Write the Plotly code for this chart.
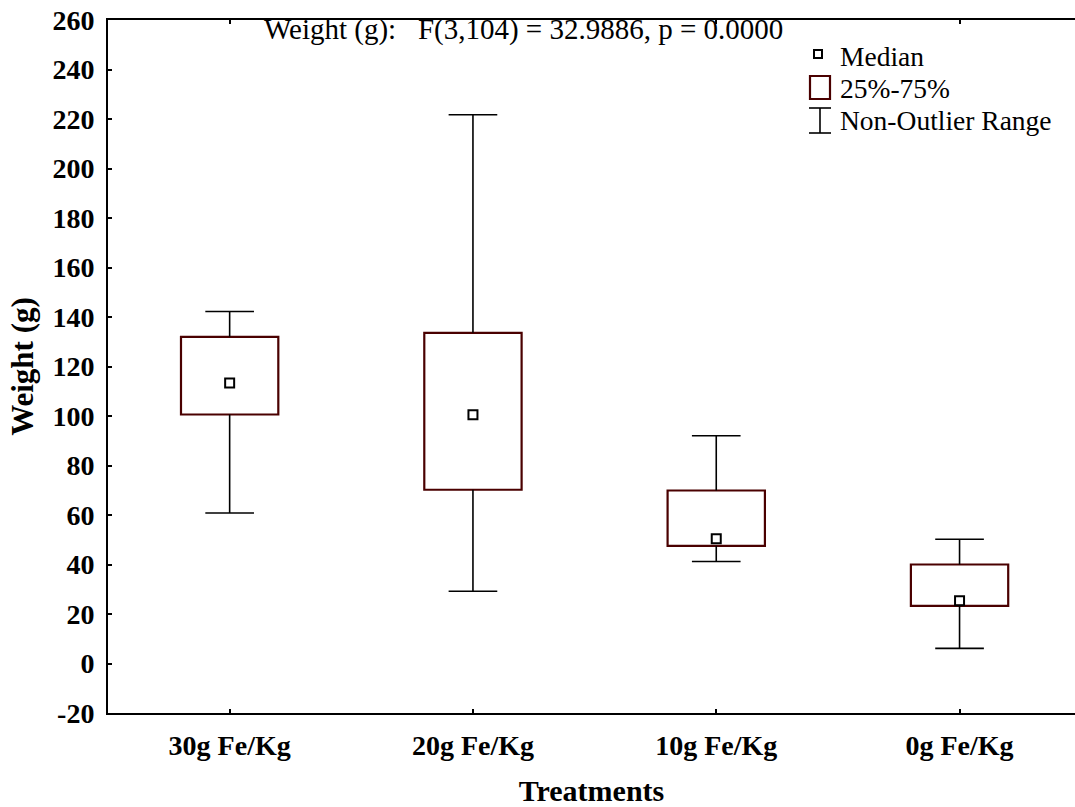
import plotly.graph_objects as go

# ---- data ----
categories = ["30g Fe/Kg", "20g Fe/Kg", "10g Fe/Kg", "0g Fe/Kg"]
medians = [113.3, 100.5, 50.4, 25.4]
q1 = [100.6, 70.2, 47.5, 23.3]
q3 = [132.0, 133.6, 69.9, 40.0]
whisker_low = [60.8, 29.2, 41.2, 6.1]
whisker_high = [142.2, 221.7, 92.0, 50.2]
y_ticks = [-20, 0, 20, 40, 60, 80, 100, 120, 140, 160, 180, 200, 220, 240, 260]
stat_text = "Weight (g):\u00a0\u00a0\u00a0F(3,104) = 32.9886, p = 0.0000"
legend_labels = ["Median", "25%-75%", "Non-Outlier Range"]

FONT = "Liberation Serif"
BOX_COLOR = "#4a0000"
W, H = 1075, 807
ML, MT, MB, MR = 108, 20, 94, 0
PW, PH = W - ML - MR, H - MT - MB

xs = list(range(len(categories)))
box_w = 0.4
cap_half = 0.1

fig = go.Figure()

# boxes (25%-75%)
fig.add_trace(go.Bar(
    x=xs, base=q1, y=[b - a for a, b in zip(q1, q3)], width=box_w,
    marker=dict(color="white", line=dict(color=BOX_COLOR, width=2.2)),
    hoverinfo="skip", showlegend=False))

# whiskers + caps
wx, wy = [], []
for i in xs:
    wx += [i, i, None, i, i, None,
           i - cap_half, i + cap_half, None, i - cap_half, i + cap_half, None]
    wy += [q3[i], whisker_high[i], None, q1[i], whisker_low[i], None,
           whisker_high[i], whisker_high[i], None, whisker_low[i], whisker_low[i], None]
fig.add_trace(go.Scatter(x=wx, y=wy, mode="lines",
                         line=dict(color="black", width=1.6),
                         hoverinfo="skip", showlegend=False))

# medians
fig.add_trace(go.Scatter(x=xs, y=medians, mode="markers",
                         marker=dict(symbol="square-open", size=9, color="black",
                                     line=dict(width=2, color="black")),
                         hoverinfo="skip", showlegend=False))

def px2paper(px, py):
    return (px - ML) / PW, (H - MB - py) / PH

shapes = []
annotations = []

# statistic text
sx, sy = px2paper(262, 29)
annotations.append(dict(x=sx, y=sy, xref="paper", yref="paper", xanchor="left",
                        yanchor="middle", showarrow=False, text=stat_text,
                        font=dict(family=FONT, size=29, color="black")))

# manual legend
legend_y = [56, 89, 121]
for lab, ly in zip(legend_labels, legend_y):
    tx, ty = px2paper(838, ly)
    annotations.append(dict(x=tx, y=ty, xref="paper", yref="paper", xanchor="left",
                            yanchor="middle", showarrow=False, text=lab,
                            font=dict(family=FONT, size=27.5, color="black")))

def rect(x0, y0, x1, y1, color, width):
    a0, b0 = px2paper(x0, y0)
    a1, b1 = px2paper(x1, y1)
    return dict(type="rect", xref="paper", yref="paper", x0=a0, y0=b0, x1=a1, y1=b1,
                line=dict(color=color, width=width), fillcolor="white")

def seg(x0, y0, x1, y1, width=1.6):
    a0, b0 = px2paper(x0, y0)
    a1, b1 = px2paper(x1, y1)
    return dict(type="line", xref="paper", yref="paper", x0=a0, y0=b0, x1=a1, y1=b1,
                line=dict(color="black", width=width))

shapes.append(rect(814, 50, 822, 58, "black", 2))
shapes.append(rect(810, 76, 830, 99, BOX_COLOR, 2.2))
shapes.append(seg(820, 108, 820, 133))
shapes.append(seg(809, 108, 831, 108))
shapes.append(seg(809, 133, 831, 133))

x_span = PW / 243.3
fig.update_layout(
    width=W, height=H,
    margin=dict(l=ML, r=MR, t=MT, b=MB, pad=0),
    paper_bgcolor="white", plot_bgcolor="white",
    showlegend=False,
    shapes=shapes, annotations=annotations,
    xaxis=dict(
        range=[-0.5, -0.5 + x_span],
        tickmode="array", tickvals=xs, ticktext=categories,
        ticks="inside", ticklen=4, tickwidth=1.5, tickcolor="black",
        showline=True, linecolor="black", linewidth=2, mirror="ticks",
        showgrid=False, zeroline=False,
        tickfont=dict(family=FONT, size=28, color="black", weight="bold"),
        ticklabelstandoff=6,
        title=dict(text="Treatments", standoff=22,
                   font=dict(family=FONT, size=30, color="black", weight="bold")),
    ),
    yaxis=dict(
        range=[-20, 260],
        tickmode="array", tickvals=y_ticks, ticktext=[str(v) for v in y_ticks],
        ticks="inside", ticklen=4, tickwidth=1.5, tickcolor="black",
        showline=True, linecolor="black", linewidth=2, mirror=False,
        showgrid=False, zeroline=False,
        tickfont=dict(family=FONT, size=28, color="black", weight="bold"),
        ticklabelstandoff=6,
        title=dict(text="Weight (g)", standoff=10,
                   font=dict(family=FONT, size=31, color="black", weight="bold")),
    ),
)

fig.write_html("out.html", config={"displayModeBar": False},
               post_script="document.body.style.margin='0';document.body.style.overflow='hidden';")
